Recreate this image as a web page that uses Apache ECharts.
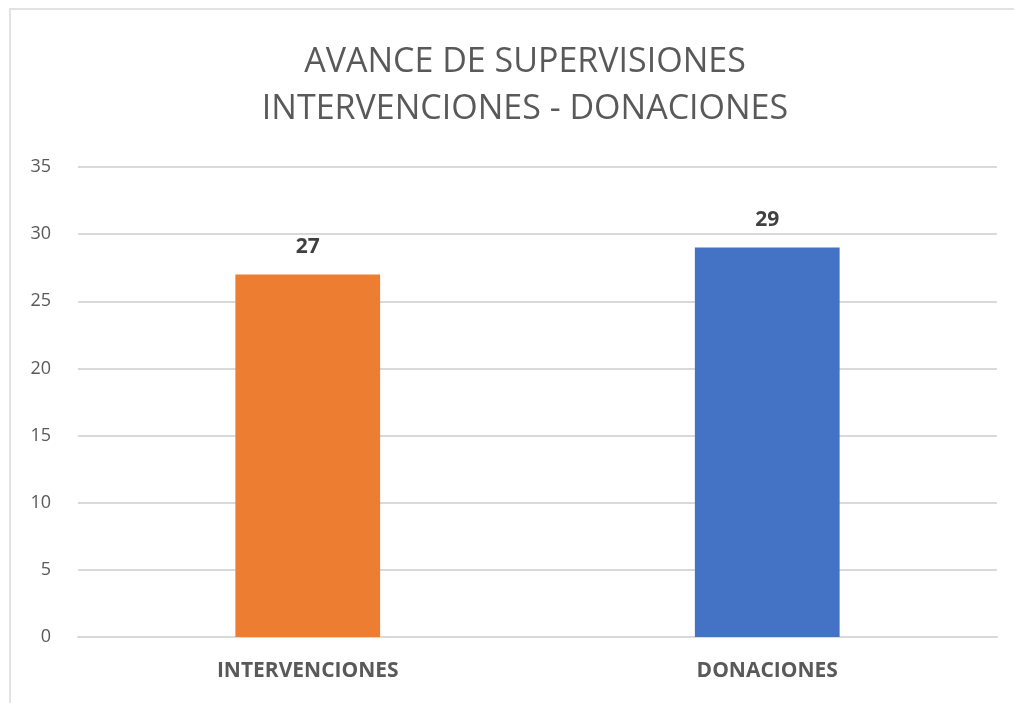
<!DOCTYPE html>
<html>
<head>
<meta charset="utf-8">
<script src="https://cdn.jsdelivr.net/npm/echarts@6/dist/echarts.min.js"></script>
<style>
    html, body { margin: 0; padding: 0; background: #fff; overflow: hidden; }
    #frame {
        position: absolute; left: 9px; top: 8px; width: 1010px; height: 694px;
        border-left: 2px solid #e2e2e2; border-top: 2px solid #e2e2e2; border-bottom: 1px solid #f0f0f0;
    }
    #chart { position: absolute; left: 0; top: 0; width: 1014px; height: 703px; }
</style>
</head>
<body>
<div id="frame"></div>
<div id="chart"></div>
<script>
// 数据
const categories = ['INTERVENCIONES', 'DONACIONES'];
const values = [27, 29];
const barColors = ['#ED7D31', '#4472C4'];
const yTicks = { min: 0, max: 35, interval: 5 };

const fontFamily = '"Open Sans", "Liberation Sans", sans-serif';

// 初始化图表
const chart = echarts.init(document.getElementById('chart'));
const option = {
    animation: false,
    title: {
        text: 'AVANCE DE SUPERVISIONES\nINTERVENCIONES - DONACIONES',
        left: 520,
        top: 34,
        textAlign: 'center',
        textStyle: {
            color: '#595959',
            fontSize: 34,
            fontWeight: 'normal',
            fontFamily: fontFamily,
            lineHeight: 47
        }
    },
    grid: {
        left: 78,
        right: 17,
        top: 167,
        bottom: 66
    },
    xAxis: {
        type: 'category',
        data: categories,
        axisTick: { show: false },
        axisLine: { lineStyle: { color: '#d9d9d9', width: 2 } },
        axisLabel: {
            color: '#595959',
            fontSize: 21,
            fontWeight: 'bold',
            fontFamily: fontFamily,
            margin: 24
        }
    },
    yAxis: {
        type: 'value',
        min: yTicks.min,
        max: yTicks.max,
        interval: yTicks.interval,
        axisLine: { show: false },
        axisTick: { show: false },
        splitLine: { lineStyle: { color: '#d9d9d9', width: 2 } },
        axisLabel: {
            color: '#595959',
            fontSize: 18,
            fontFamily: fontFamily,
            margin: 27
        }
    },
    series: [
        {
            type: 'bar',
            barWidth: '31.5%',
            data: values.map((v, i) => ({ value: v, itemStyle: { color: barColors[i] } })),
            label: {
                show: true,
                position: 'top',
                distance: 17,
                color: '#404040',
                fontSize: 21,
                fontWeight: 'bold',
                fontFamily: fontFamily
            }
        }
    ]
};
chart.setOption(option);
</script>
</body>
</html>
